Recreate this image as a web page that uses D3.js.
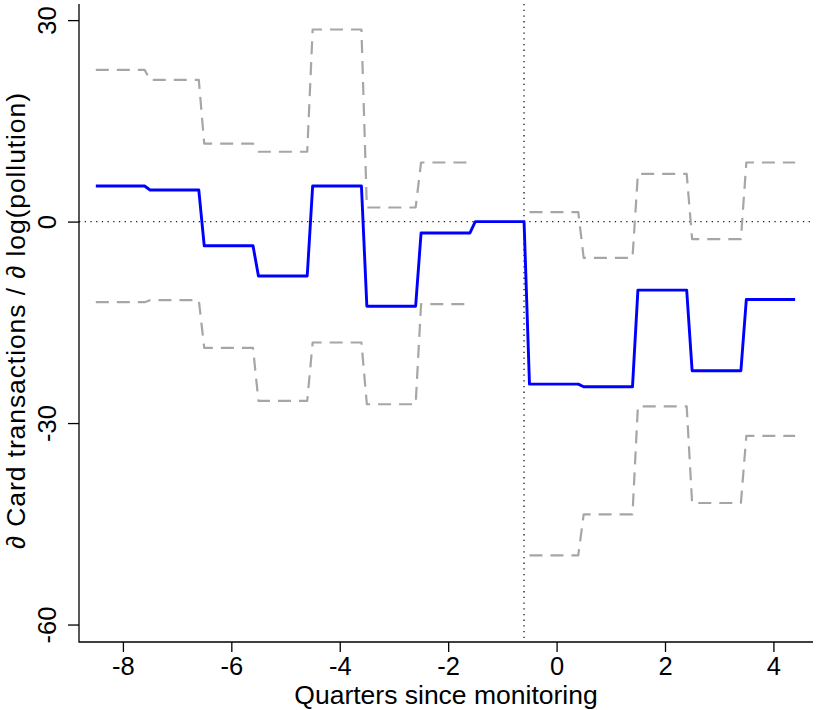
<!DOCTYPE html>
<html>
<head>
<meta charset="utf-8">
<script src="https://cdn.jsdelivr.net/npm/d3@7"></script>
<style>
  html, body { margin: 0; padding: 0; background: #fff; }
  svg { display: block; font-family: "Liberation Sans", Arial, Helvetica, sans-serif; }
</style>
</head>
<body>
<svg id="chart" width="816" height="710"></svg>
<script>
// ---- data ----
const quarters  = [-8, -7, -6, -5, -4, -3, -2, -1, 0, 1, 2, 3, 4];
const estimate  = [5.3, 4.7, -3.6, -8.1, 5.3, -12.6, -1.7, 0, -24.2, -24.6, -10.2, -22.2, -11.6];
const upperCI   = [22.6, 21.1, 11.6, 10.4, 28.6, 2.1, 8.8, null, 1.4, -5.4, 7.1, -2.6, 8.8];
const lowerCI   = [-12.0, -11.7, -18.8, -26.7, -18.0, -27.2, -12.3, null, -49.7, -43.6, -27.5, -41.9, -31.9];
const xTicks    = [-8, -6, -4, -2, 0, 2, 4];
const yTicks    = [-60, -30, 0, 30];
const eventLine = -0.6;
const xTitle = "Quarters since monitoring";
const yTitle = "\u2202 Card transactions / \u2202 log(pollution)";

// ---- layout ----
const svg = d3.select("#chart");
const mLeft = 79, mRight = 813, mTop = 4, mBottom = 642;
const tickFont = 25.5, titleFont = 26.5;
const x = d3.scaleLinear().domain([-8.81, 4.73]).range([mLeft, mRight]);
const y = d3.scaleLinear().domain([-62.6, 32.4]).range([mBottom, mTop]);

// each quarter is drawn as a flat step from q-0.5 to q+0.4
const stepStart = -0.5, stepEnd = 0.4;
function steps(values) {
  const pts = [];
  quarters.forEach((q, i) => {
    pts.push({x: q + stepStart, v: values[i]});
    pts.push({x: q + stepEnd, v: values[i]});
  });
  return pts;
}
const line = d3.line()
  .defined(d => d.v !== null)
  .x(d => x(d.x))
  .y(d => y(d.v));

// reference lines (dotted)
svg.append("line")
  .attr("x1", mLeft).attr("x2", mRight)
  .attr("y1", y(0)).attr("y2", y(0))
  .attr("stroke", "#222").attr("stroke-width", 1.4)
  .attr("stroke-dasharray", "1.3,4.4");
svg.append("line")
  .attr("x1", x(eventLine)).attr("x2", x(eventLine))
  .attr("y1", mTop).attr("y2", mBottom)
  .attr("stroke", "#222").attr("stroke-width", 1.4)
  .attr("stroke-dasharray", "1.3,4.4");

// confidence bands
[upperCI, lowerCI].forEach(arr => {
  svg.append("path")
    .attr("d", line(steps(arr)))
    .attr("fill", "none")
    .attr("stroke", "#a6a6a6")
    .attr("stroke-width", 2.2)
    .attr("stroke-dasharray", "13,8")
    .attr("stroke-linejoin", "round");
});

// point estimates
svg.append("path")
  .attr("d", line(steps(estimate)))
  .attr("fill", "none")
  .attr("stroke", "#0000ff")
  .attr("stroke-width", 2.9)
  .attr("stroke-linejoin", "round");

// L-shaped box
svg.append("path")
  .attr("d", `M${mLeft},${mTop}V${mBottom}H${mRight}`)
  .attr("fill", "none").attr("stroke", "#000").attr("stroke-width", 1.3);

// x axis ticks and labels
const xAxis = d3.axisBottom(x).tickValues(xTicks).tickSize(10).tickSizeOuter(0)
  .tickFormat(d3.format("d"));
const gx = svg.append("g").attr("transform", `translate(0,${mBottom})`).call(xAxis);
gx.select(".domain").remove();
gx.selectAll(".tick line").attr("stroke", "#000").attr("stroke-width", 1.3);
gx.selectAll(".tick text")
  .attr("y", 33).attr("dy", 0)
  .attr("font-size", tickFont).attr("fill", "#000")
  .attr("font-family", "Liberation Sans, Arial, sans-serif")
  .text(d => d < 0 ? "-" + Math.abs(d) : d);

// y axis ticks and rotated labels
const yAxis = d3.axisLeft(y).tickValues(yTicks).tickSize(11).tickSizeOuter(0);
const gy = svg.append("g").attr("transform", `translate(${mLeft},0)`).call(yAxis);
gy.select(".domain").remove();
gy.selectAll(".tick line").attr("stroke", "#000").attr("stroke-width", 1.3);
gy.selectAll(".tick text").remove();
gy.selectAll(".tick").append("text")
  .attr("transform", `translate(${56 - mLeft},0) rotate(-90)`)
  .attr("text-anchor", "middle")
  .attr("font-size", tickFont).attr("fill", "#000")
  .attr("font-family", "Liberation Sans, Arial, sans-serif")
  .text(d => d < 0 ? "-" + Math.abs(d) : d);

// axis titles
svg.append("text")
  .attr("x", (mLeft + mRight) / 2).attr("y", 704)
  .attr("text-anchor", "middle").attr("font-size", titleFont).attr("fill", "#000")
  .text(xTitle);
svg.append("text")
  .attr("transform", `translate(24.5,321) rotate(-90)`)
  .attr("text-anchor", "middle").attr("font-size", titleFont).attr("fill", "#000")
  .attr("textLength", 456).attr("lengthAdjust", "spacing")
  .text(yTitle);
</script>
</body>
</html>
